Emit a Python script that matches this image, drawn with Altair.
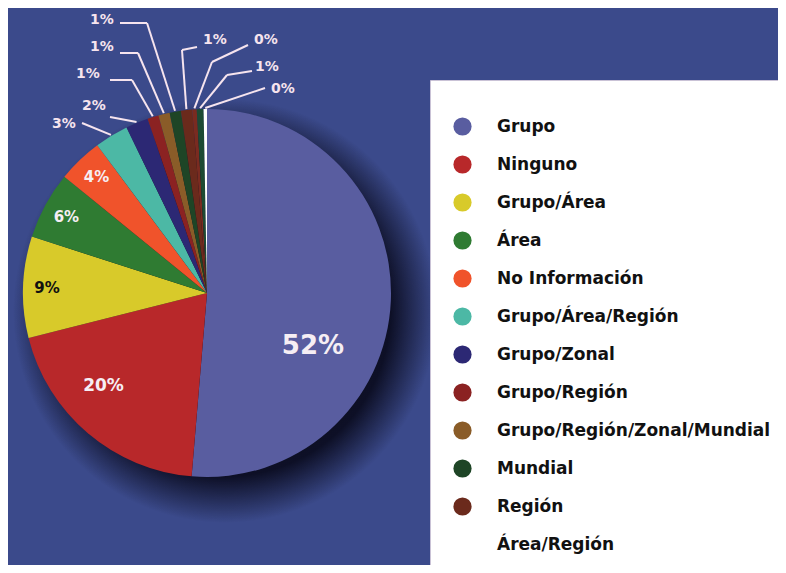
import math
import altair as alt
import pandas as pd

# ---------------- data ----------------
categories = [
    "Grupo", "Ninguno", "Grupo/Área", "Área", "No Información",
    "Grupo/Área/Región", "Grupo/Zonal", "Grupo/Región",
    "Grupo/Región/Zonal/Mundial", "Mundial", "Región",
    "s/n 1", "s/n 2", "Área/Región",
]
values = [52, 20, 9, 6, 4, 3, 2, 1, 1, 1, 1, 0.4, 0.6, 0.3]
colors = [
    "#595da0", "#b8282a", "#d8ca2a", "#2f7b32", "#f0532b",
    "#4cb8a5", "#2c2874", "#8b2222", "#8a5c28", "#1e4526", "#6b2a1c",
    "#7a2b20", "#1d4a33", "#ffffff",
]
# legend entries visible in the picture (the box is cut off below)
legend_categories = categories[:11] + ["Área/Región"]

df = pd.DataFrame({"category": categories, "value": values,
                   "idx": list(range(len(categories)))})

# ---------------- layout ----------------
W, H = 770, 557
CX, CY, R = 199, 285, 184
RE = R + 1
BG = "#3b4a8b"
LC = "#f6e4ee"
FONT = "DejaVu Sans"
OUTER_LIMIT = 3.5
# outer label layout (label centre, line start at label, elbow), chart px
TX = [56, 86, 80, 94, 94, 207, 258, 259, 275]
TY = [116, 98, 66, 39, 12, 32, 32, 59, 81]
AX = [74, 102, 102, 112, 112, 189, 240, 244, 257]
AY = [115, 109, 72, 45, 15, 39, 37, 63, 80]
EX = [74, 102, 124, 130, 139, 174, 204, 219, 257]
EY = [115, 109, 72, 45, 15, 42, 54, 67, 80]


def js(lst):
    return "[" + ",".join(str(v) for v in lst) + "]"


label_expr = "round(datum.value) + '%'"

# soft shadow behind the pie
shadow = alt.Chart(pd.DataFrame({"k": [0]})).mark_arc(
    theta=0, theta2=2 * math.pi, radius=R + 28,
    fill=alt.Gradient(
        gradient="radial",
        stops=[
            alt.GradientStop(color="rgba(5,5,20,0.95)", offset=0),
            alt.GradientStop(color="rgba(5,5,20,0.85)", offset=0.78),
            alt.GradientStop(color="rgba(5,5,20,0)", offset=1),
        ],
        x1=0.5, y1=0.5, x2=0.5, y2=0.5, r1=0, r2=0.5,
    ),
).encode(x=alt.value(CX + 18), y=alt.value(CY + 18))

base = alt.Chart(df).transform_calculate(label=label_expr)

pie = base.mark_arc(radius=R, stroke=None).encode(
    theta=alt.Theta("value:Q", stack=True),
    order=alt.Order("idx:Q", sort="ascending"),
    color=alt.Color(
        "category:N",
        scale=alt.Scale(domain=categories, range=colors),
        legend=alt.Legend(
            orient="none", legendX=422, legendY=72,
            values=legend_categories,
            title=" ", titleFontSize=8, titlePadding=6,
            fillColor="white", strokeColor="#c9c2d6", padding=23,
            symbolType="circle", symbolSize=330, symbolStrokeWidth=0,
            symbolOpacity=1,
            labelFont=FONT, labelFontWeight="bold", labelFontSize=17,
            labelColor="#111111", labelOffset=25, rowPadding=19,
            labelLimit=600,
        ),
    ),
    x=alt.value(CX), y=alt.value(CY),
)


def inner(test, radius, size, dx=0, dy=0):
    return base.mark_text(
        radius=radius, font=FONT, fontWeight="bold", fontSize=size,
        dx=dx, dy=dy, align="center", baseline="middle",
    ).encode(
        theta=alt.Theta("value:Q", stack=True),
        order=alt.Order("idx:Q", sort="ascending"),
        detail="category:N",
        text=alt.condition(test, alt.Text("label:N"), alt.value("")),
        color=alt.condition("datum.category == 'Grupo/Área'",
                            alt.value("#111111"), alt.value("#f6eef4")),
        x=alt.value(CX), y=alt.value(CY),
    )


t_big = inner("datum.value >= 50", 106, 26, dy=49)
t_mid = inner("datum.value >= 15 && datum.value < 50", 132, 17, dx=-18, dy=-8)
t_small = inner(f"datum.value >= {OUTER_LIMIT} && datum.value < 15", 160, 15)

lead = (
    alt.Chart(df)
    .transform_joinaggregate(total="sum(value)")
    .transform_window(cum="sum(value)", sort=[alt.SortField("idx", order="ascending")])
    .transform_calculate(
        label=label_expr,
        mid="(datum.cum - datum.value / 2) / datum.total * 2 * PI",
    )
    .transform_calculate(
        px=f"{CX} + {RE} * sin(datum.mid)",
        py=f"{CY} - {RE} * cos(datum.mid)",
    )
    .transform_filter(f"datum.value < {OUTER_LIMIT}")
    .transform_window(rank="row_number()", sort=[alt.SortField("idx", order="ascending")])
    .transform_calculate(
        tx=f"{js(TX)}[datum.rank - 1]", ty=f"{js(TY)}[datum.rank - 1]",
        ax=f"{js(AX)}[datum.rank - 1]", ay=f"{js(AY)}[datum.rank - 1]",
        ex=f"{js(EX)}[datum.rank - 1]", ey=f"{js(EY)}[datum.rank - 1]",
    )
)

seg1 = lead.mark_rule(color=LC, strokeWidth=2).encode(
    x=alt.X("px:Q", scale=None, axis=None),
    y=alt.Y("py:Q", scale=None, axis=None),
    x2="ex:Q", y2="ey:Q",
)
seg2 = lead.mark_rule(color=LC, strokeWidth=2).encode(
    x=alt.X("ex:Q", scale=None, axis=None),
    y=alt.Y("ey:Q", scale=None, axis=None),
    x2="ax:Q", y2="ay:Q",
)
outer_txt = lead.mark_text(
    font=FONT, fontWeight="bold", fontSize=14, color=LC,
    align="center", baseline="middle",
).encode(
    x=alt.X("tx:Q", scale=None, axis=None),
    y=alt.Y("ty:Q", scale=None, axis=None),
    text="label:N",
)

chart = (
    alt.layer(shadow, pie, t_big, t_mid, t_small, seg1, seg2, outer_txt)
    .properties(
        width=W, height=H, padding=0,
        autosize=alt.AutoSizeParams(type="none"),
        background=BG,
    )
    .configure_view(stroke=None)
)

chart.save("out.html", embed_options={"renderer": "svg", "actions": False})
